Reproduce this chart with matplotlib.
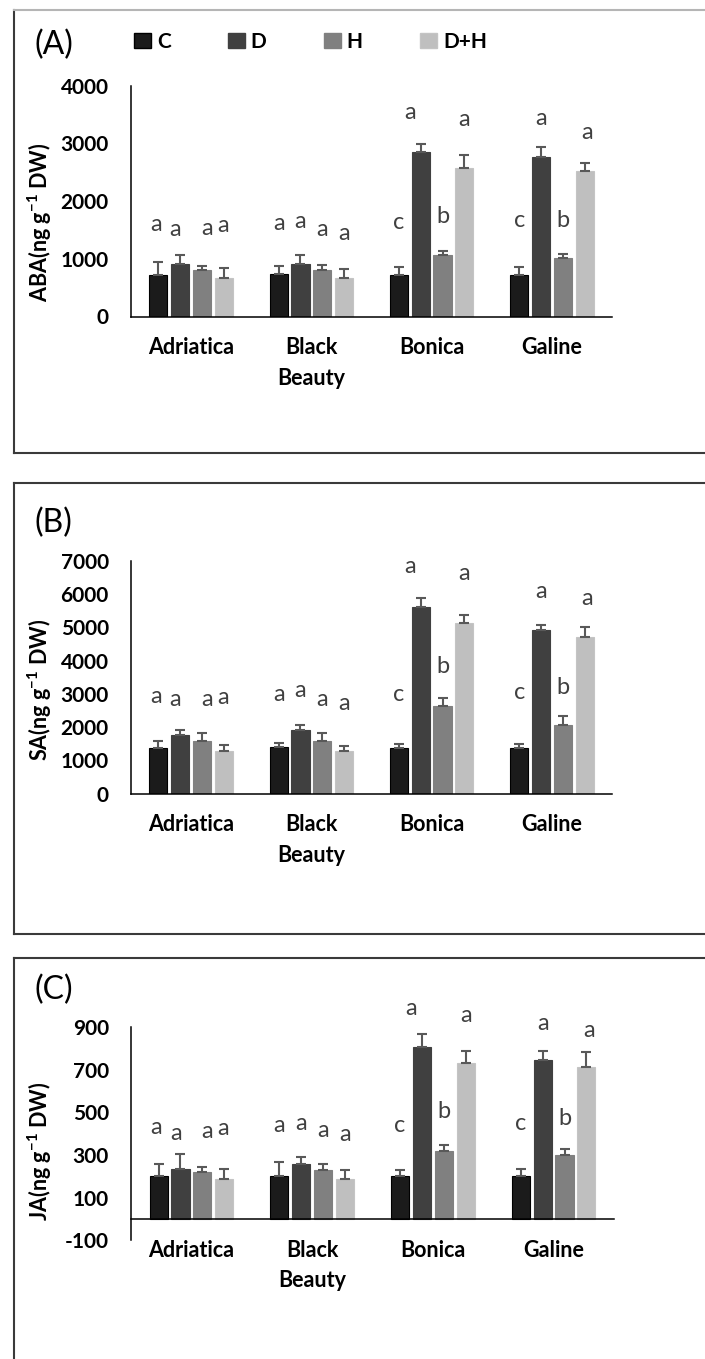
import numpy as np
import matplotlib
matplotlib.use("Agg")
import matplotlib.pyplot as plt
from matplotlib.patches import Patch
from matplotlib.lines import Line2D

plt.rcParams['font.family'] = ['Lato', 'DejaVu Sans']
plt.rcParams['mathtext.fontset'] = 'custom'
plt.rcParams['mathtext.rm'] = 'Lato'
plt.rcParams['mathtext.bf'] = 'Lato:bold'
plt.rcParams['axes.unicode_minus'] = False

# cultivars and treatments
cultivars = ['Adriatica', 'Black\nBeauty', 'Bonica', 'Galine']
treatments = ['C', 'D', 'H', 'D+H']

# ABA (ng g-1 DW)
aba_mean = {
    'C':   [723, 728, 723, 723],
    'D':   [907, 913, 2844, 2763],
    'H':   [809, 809, 1058, 1012],
    'D+H': [659, 665, 2566, 2514],
}
aba_err = {
    'C':   [213, 139, 127, 127],
    'D':   [162, 145, 139, 168],
    'H':   [70, 75, 69, 75],
    'D+H': [185, 162, 231, 150],
}

# SA (ng g-1 DW)
sa_mean = {
    'C':   [1380, 1400, 1380, 1380],
    'D':   [1770, 1920, 5620, 4920],
    'H':   [1570, 1570, 2620, 2050],
    'D+H': [1270, 1270, 5120, 4720],
}
sa_err = {
    'C':   [200, 130, 120, 120],
    'D':   [130, 130, 260, 160],
    'H':   [250, 260, 260, 280],
    'D+H': [180, 160, 240, 280],
}

# JA (ng g-1 DW)
ja_mean = {
    'C':   [202, 203, 203, 203],
    'D':   [237, 258, 808, 748],
    'H':   [219, 228, 320, 300],
    'D+H': [187, 187, 733, 714],
}
ja_err = {
    'C':   [54, 63, 27, 30],
    'D':   [68, 34, 62, 41],
    'H':   [26, 28, 27, 28],
    'D+H': [47, 43, 56, 70],
}

# significance letters, rows = cultivar, cols = treatment
letters = [['a', 'a', 'a', 'a'],
           ['a', 'a', 'a', 'a'],
           ['c', 'a', 'b', 'a'],
           ['c', 'a', 'b', 'a']]

# height at which each letter sits
aba_letter_y = [[1590, 1514, 1532, 1578],
                [1618, 1647, 1514, 1445],
                [1630, 3526, 1734, 3410],
                [1665, 3422, 1665, 3179]]
sa_letter_y = [[2920, 2820, 2820, 2900],
               [2980, 3100, 2820, 2700],
               [2980, 6820, 3820, 6620],
               [3050, 6080, 3200, 5880]]
ja_letter_y = [[430, 402, 409, 425],
               [441, 448, 417, 398],
               [441, 988, 503, 956],
               [448, 917, 472, 886]]
# small sideways nudges of the letters (category units)
letter_dx = [[-0.02, -0.04, 0.04, -0.01],
             [0.0, 0.0, 0.0, 0.0],
             [0.0, -0.09, 0.0, 0.0],
             [0.0, 0.0, 0.0, 0.02]]

colors = {'C': '#1b1b1b', 'D': '#404040', 'H': '#808080', 'D+H': '#bfbfbf'}
edges = {'C': '#000000', 'D': '#404040', 'H': '#808080', 'D+H': '#c4c4c4'}

W, H = 705, 1359
fig = plt.figure(figsize=(W / 100, H / 100), dpi=100)


def px_box(left, right, top, bottom):
    return [left / W, 1 - bottom / H, (right - left) / W, (bottom - top) / H]


panels = [
    dict(mean=aba_mean, err=aba_err, ly=aba_letter_y, ylim=(0, 4000),
         yticks=[0, 1000, 2000, 3000, 4000], box=px_box(131, 612, 85.5, 316.5),
         ylabel='ABA(ng g$^{\\mathbf{-1}}$ DW)', ylab_y=222, tag='(A)', tag_y=45),
    dict(mean=sa_mean, err=sa_err, ly=sa_letter_y, ylim=(0, 7000),
         yticks=list(range(0, 7001, 1000)), box=px_box(131, 612, 561, 793.5),
         ylabel='SA(ng g$^{\\mathbf{-1}}$ DW)', ylab_y=690, tag='(B)', tag_y=523),
    dict(mean=ja_mean, err=ja_err, ly=ja_letter_y, ylim=(-100, 900),
         yticks=[-100, 100, 300, 500, 700, 900], box=px_box(131, 614, 1027.3, 1240.3),
         ylabel='JA(ng g$^{\\mathbf{-1}}$ DW)', ylab_y=1151, tag='(C)', tag_y=990),
]

x = np.arange(len(cultivars))
pitch = 0.181
bw = 0.15

for p in panels:
    ax = fig.add_axes(p['box'])
    ax.spines['top'].set_visible(False)
    ax.spines['right'].set_visible(False)
    ax.spines['left'].set_linewidth(1.1)
    ax.spines['bottom'].set_linewidth(1.1)
    if p['ylim'][0] < 0:
        # category axis crosses at zero
        ax.spines['bottom'].set_position(('data', 0))
    for j, t in enumerate(treatments):
        xs = x + (j - 1.5) * pitch
        m = np.array(p['mean'][t])
        e = np.array(p['err'][t])
        ax.bar(xs, m, width=bw, color=colors[t], edgecolor=edges[t], linewidth=0.8, zorder=2)
        ax.errorbar(xs, m, yerr=[np.zeros_like(e), e], fmt='none', ecolor='#595959',
                    elinewidth=1.5, capsize=3.3, capthick=1.5, zorder=3)
        for i in range(len(cultivars)):
            ax.text(xs[i] + letter_dx[i][j], p['ly'][i][j], letters[i][j],
                    ha='center', va='center', fontsize=17, color='#404040')
    ax.set_xlim(-0.5, 3.5)
    ax.set_ylim(*p['ylim'])
    ax.set_yticks(p['yticks'])
    ax.set_xticks(x)
    ax.set_xticklabels(cultivars, fontsize=15.5, fontweight='bold', linespacing=1.55)
    for lab in ax.get_yticklabels():
        lab.set_fontweight('bold')
        lab.set_fontsize(15)
    ax.tick_params(axis='both', length=0)
    ax.tick_params(axis='y', pad=16)
    ax.tick_params(axis='x', pad=15)
    fig.text(40 / W, 1 - p['ylab_y'] / H, p['ylabel'], rotation=90, ha='center',
             va='center', fontsize=15.5, fontweight='bold')
    fig.text(34 / W, 1 - p['tag_y'] / H, p['tag'], ha='left', va='center', fontsize=23)

# legend across the top of panel A
handles = [Patch(facecolor=colors[t], edgecolor=edges[t]) for t in treatments]
fig.legend(handles, treatments, ncol=4, loc='center left',
           bbox_to_anchor=(134 / W, 1 - 42 / H), frameon=False,
           prop={'weight': 'bold', 'size': 15}, handlelength=0.8, handleheight=0.75,
           handletextpad=0.3, columnspacing=2.75, borderaxespad=0, borderpad=0)


# frames around each panel
def frame(top, bottom, top_color='#3a3a3a'):
    lw = 1.5
    fig.add_artist(Line2D([14.5 / W, 14.5 / W], [1 - top / H, 1 - bottom / H],
                          color='#3a3a3a', lw=lw))
    fig.add_artist(Line2D([14.5 / W, 1.0], [1 - top / H, 1 - top / H],
                          color=top_color, lw=lw))
    if bottom < H:
        fig.add_artist(Line2D([14.5 / W, 1.0], [1 - bottom / H, 1 - bottom / H],
                              color='#3a3a3a', lw=lw))


frame(9.5, 453, top_color='#b5b5b5')
frame(483, 934)
frame(958, H + 10)

fig.savefig('out.png', dpi=100)
